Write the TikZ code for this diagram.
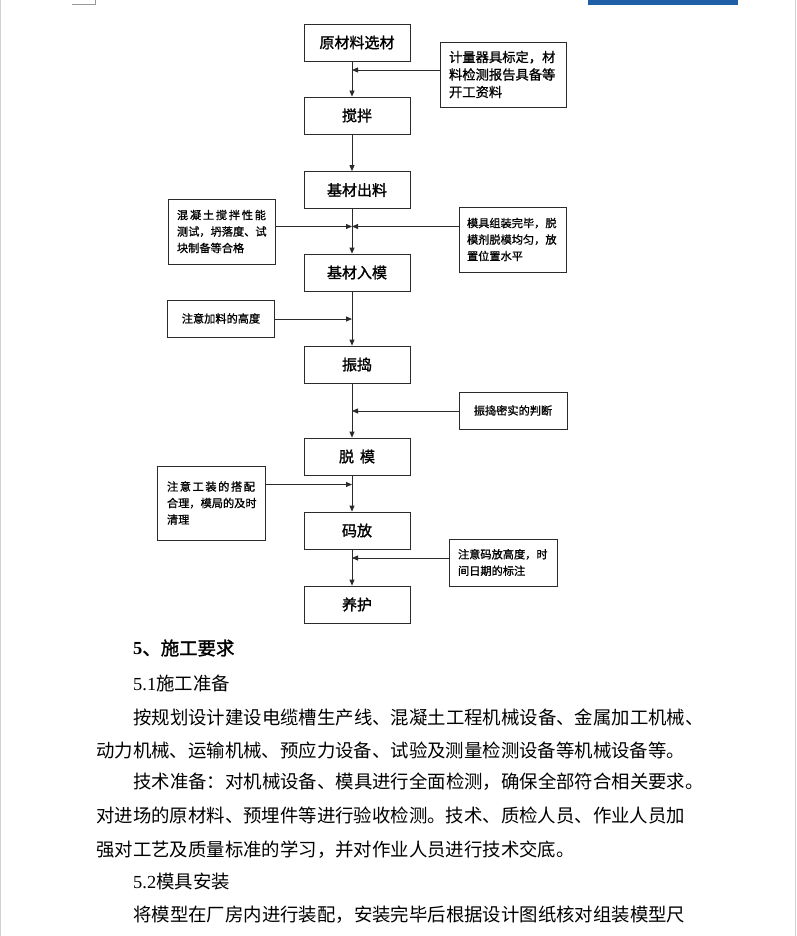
\documentclass[tikz,border=0pt]{standalone}
\usepackage{fontspec}
\setmainfont{Liberation Serif}
\newfontfamily\cjk{Noto Sans CJK SC}
\newfontfamily\cjkb[FakeBold=1.5]{Noto Sans CJK SC}
\newfontfamily\cjks[FakeBold=1]{Noto Sans CJK SC}
\usetikzlibrary{arrows.meta}
\definecolor{linec}{HTML}{2B2B2B}
\definecolor{bannerblue}{HTML}{1F5FA6}
\begin{document}
\begin{tikzpicture}[x=1pt,y=-1pt,
  mainbox/.style={draw=linec, line width=0.8pt, minimum width=106pt, minimum height=37pt, inner sep=0pt,
    font=\cjkb\fontsize{15}{18}\selectfont},
  sidebox/.style={draw=linec, line width=0.8pt, inner xsep=9pt, inner ysep=0pt, align=left},
  sidefont/.style={font=\cjks\fontsize{11.2}{16.5}\selectfont},
  flow/.style={draw=linec, line width=0.8pt, -{Triangle[length=6pt,width=5pt]}},
  body/.style={anchor=west, inner sep=0pt, font=\cjk\fontsize{18.4}{20}\selectfont}]
\fill[white] (0,0) rectangle (796,936);
\useasboundingbox (0,0) rectangle (796,936);
% page edges and top marks
\draw[black!18, line width=0.8pt] (0.5,0) -- (0.5,936);
\draw[black!18, line width=0.8pt] (795.3,0) -- (795.3,936);
\draw[black!40, line width=0.6pt] (72,4) -- (95,4) -- (95,0);
\fill[bannerblue] (588,0) rectangle (738,5);

% main flow
\coordinate (L) at (352,0);
\node[mainbox] (n1) at (357,42.5) {原材料选材};
\node[mainbox] (n2) at (357,115.5) {搅拌};
\node[mainbox] (n3) at (357,190) {基材出料};
\node[mainbox] (n4) at (357,272.5) {基材入模};
\node[mainbox] (n5) at (357,364.5) {振捣};
\node[mainbox] (n6) at (357,456.5) {脱\hspace{6pt}模};
\node[mainbox] (n7) at (357,530.5) {码放};
\node[mainbox] (n8) at (357,604.5) {养护};

\foreach \a/\b in {n1/n2,n2/n3,n3/n4,n4/n5,n5/n6,n6/n7,n7/n8}
  \draw[flow] (\a.south -| L) -- (\b.north -| L);

% side boxes
\node[sidebox, font=\cjks\fontsize{13.3}{17.5}\selectfont, text width=108pt, minimum height=65pt] (b1) at (503,74.5)
  {计量器具标定，材\\料检测报告具备等\\开工资料};
\node[sidebox, sidefont, text width=89pt, minimum height=65pt] (b2) at (221.5,231.5)
  {\makebox[89pt][s]{混\hfil 凝\hfil 土\hfil 搅\hfil 拌\hfil 性\hfil 能}\\测试，坍落度、试\\块制备等合格};
\node[sidebox, sidefont, inner xsep=8pt, text width=91pt, minimum height=65pt] (b3) at (512.5,239.5)
  {模具组装完毕，脱\\模剂脱模均匀，放\\置位置水平};
\node[sidebox, sidefont, align=center, text width=89pt, minimum height=37pt] (b4) at (221,318.5)
  {注意加料的高度};
\node[sidebox, sidefont, align=center, text width=90pt, minimum height=37pt] (b5) at (513,410.5)
  {振捣密实的判断};
\node[sidebox, sidefont, inner xsep=10pt, text width=88pt, minimum height=74pt] (b6) at (211,503)
  {\makebox[88pt][s]{注\hfil 意\hfil 工\hfil 装\hfil 的\hfil 搭\hfil 配}\\合理，模局的及时\\清理};
\node[sidebox, sidefont, text width=90pt, minimum height=47pt] (b7) at (503,562.5)
  {注意码放高度，时\\间日期的标注};

% side arrows
\coordinate (j1) at (352,70);
\coordinate (j2) at (352,226.5);
\coordinate (j4) at (352,319);
\coordinate (j5) at (352,411);
\coordinate (j6) at (352,484.5);
\coordinate (j7) at (352,558);
\draw[flow] (b1.west |- j1) -- (j1);
\draw[flow] (b2.east |- j2) -- (j2);
\draw[flow] (b3.west |- j2) -- (j2);
\draw[flow] (b4.east |- j4) -- (j4);
\draw[flow] (b5.west |- j5) -- (j5);
\draw[flow] (b6.east |- j6) -- (j6);
\draw[flow] (b7.west |- j7) -- (j7);

% body text
\node[body] (t1) at (133,648) {{\rmfamily\bfseries 5}{\cjkb 、施工要求}};
\node[body] (t2) at (133,683) {{\rmfamily 5.1}施工准备};
\node[body] (t3) at (133,717) {按规划设计建设电缆槽生产线、混凝土工程机械设备、金属加工机械、};
\node[body] (t4) at (96,750) {动力机械、运输机械、预应力设备、试验及测量检测设备等机械设备等。};
\node[body] (t5) at (133,782) {技术准备：对机械设备、模具进行全面检测，确保全部符合相关要求。};
\node[body] (t6) at (96,815) {对进场的原材料、预埋件等进行验收检测。技术、质检人员、作业人员加};
\node[body] (t7) at (96,850) {强对工艺及质量标准的学习，并对作业人员进行技术交底。};
\node[body] (t8) at (133,882) {{\rmfamily 5.2}模具安装};
\node[body] (t9) at (133,915) {将模型在厂房内进行装配，安装完毕后根据设计图纸核对组装模型尺};
\end{tikzpicture}
\end{document}
